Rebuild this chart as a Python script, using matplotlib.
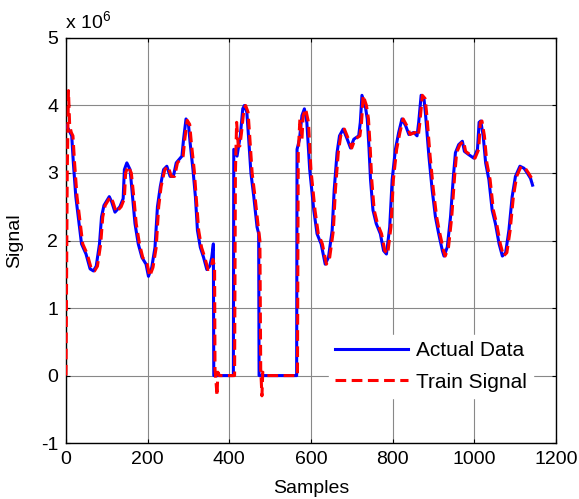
import matplotlib
matplotlib.use("Agg")
import matplotlib.pyplot as plt

plt.rcParams['font.family'] = ['Liberation Sans', 'DejaVu Sans']
plt.rcParams['mathtext.fontset'] = 'custom'
plt.rcParams['mathtext.rm'] = 'Liberation Sans'

# Actual data (sample index, value in units of 1e6)
actual_x = [0, 6, 14, 18, 24, 30, 38, 49, 59, 67, 74, 82, 87, 93, 106, 112, 120, 132, 140, 143,
            149, 157, 163, 169, 177, 186, 196, 202, 210, 218, 224, 231, 239, 247, 255, 263, 270,
            284, 288, 294, 300, 304, 311, 317, 322, 329, 337, 345, 352, 357, 361, 362, 366, 410,
            411, 419, 427, 433, 437, 443, 447, 453, 460, 468, 472, 473, 477, 565, 566, 572, 578,
            584, 590, 597, 607, 615, 625, 635, 643, 652, 657, 664, 670, 679, 689, 697, 705, 717,
            721, 725, 733, 738, 742, 746, 752, 760, 770, 778, 785, 793, 799, 807, 815, 823, 832,
            840, 852, 860, 864, 870, 877, 881, 889, 897, 905, 913, 922, 926, 934, 942, 949, 954,
            962, 971, 976, 987, 999, 1008, 1012, 1016, 1022, 1028, 1036, 1044, 1052, 1061, 1069,
            1077, 1085, 1093, 1101, 1112, 1122, 1130, 1138, 1143]
actual_y = [3.7, 3.65, 3.55, 3.15, 2.65, 2.35, 1.95, 1.8, 1.58, 1.55, 1.62, 1.95, 2.35, 2.52, 2.65,
            2.57, 2.42, 2.5, 2.62, 3.05, 3.15, 3.05, 2.65, 2.25, 1.95, 1.75, 1.65, 1.47, 1.6, 1.9,
            2.5, 2.8, 3.05, 3.1, 2.95, 2.95, 3.15, 3.25, 3.5, 3.8, 3.72, 3.45, 3.05, 2.65, 2.15,
            1.9, 1.75, 1.57, 1.62, 1.75, 1.95, 0.0, 0.0, 0.0, 3.35, 3.25, 3.55, 3.95, 4.0, 3.9,
            3.55, 3.0, 2.65, 2.2, 2.1, 0.0, 0.0, 0.0, 3.35, 3.5, 3.85, 3.95, 3.75, 3.05, 2.45, 2.1,
            1.95, 1.65, 1.75, 2.15, 2.75, 3.3, 3.55, 3.65, 3.5, 3.37, 3.5, 3.55, 3.75, 4.15, 4.0,
            3.8, 3.4, 2.9, 2.45, 2.25, 2.1, 1.85, 1.8, 2.2, 2.9, 3.35, 3.6, 3.8, 3.7, 3.57, 3.6,
            3.55, 3.75, 4.15, 4.1, 3.85, 3.25, 2.75, 2.35, 2.1, 1.85, 1.77, 1.9, 2.35, 2.95, 3.3,
            3.42, 3.47, 3.32, 3.27, 3.22, 3.35, 3.75, 3.77, 3.55, 3.15, 2.9, 2.45, 2.25, 1.95, 1.77,
            1.82, 2.15, 2.65, 2.95, 3.1, 3.07, 3.0, 2.92, 2.82]

# Train signal (sample index, value in units of 1e6)
train_x = [0, 3, 6, 9, 13, 17, 21, 27, 33, 41, 52, 62, 70, 77, 85, 90, 96, 109, 115, 123, 135, 143,
           146, 152, 160, 166, 172, 180, 188, 199, 205, 213, 221, 227, 233, 242, 250, 258, 266,
           273, 287, 291, 297, 303, 307, 314, 319, 325, 332, 340, 348, 355, 360, 364, 365, 367,
           370, 372, 376, 413, 415, 418, 422, 426, 430, 436, 440, 446, 450, 456, 463, 471, 475,
           477, 480, 482, 488, 567, 569, 573, 578, 581, 587, 594, 600, 610, 618, 628, 638, 646,
           655, 660, 667, 673, 682, 692, 700, 708, 720, 724, 728, 736, 741, 745, 749, 755, 763,
           773, 781, 788, 796, 802, 810, 818, 826, 835, 843, 855, 863, 867, 873, 880, 884, 892,
           900, 908, 916, 925, 929, 937, 945, 952, 957, 965, 974, 979, 990, 1002, 1011, 1015, 1019,
           1025, 1031, 1039, 1047, 1055, 1064, 1072, 1080, 1088, 1096, 1104, 1115, 1125, 1133,
           1141, 1145]
train_y = [0.0, 3.0, 4.22, 3.7, 3.6, 3.55, 3.15, 2.65, 2.35, 1.95, 1.8, 1.58, 1.55, 1.62, 1.95, 2.35,
           2.52, 2.65, 2.57, 2.42, 2.5, 2.62, 3.0, 3.1, 3.0, 2.65, 2.25, 1.95, 1.75, 1.65, 1.47, 1.6,
           1.9, 2.5, 2.8, 3.05, 3.1, 2.95, 2.95, 3.15, 3.25, 3.5, 3.78, 3.72, 3.45, 3.05, 2.65, 2.15,
           1.9, 1.75, 1.57, 1.6, 1.72, 1.6, 0.1, -0.05, -0.3, 0.05, 0.0, 0.0, 3.0, 3.75, 3.4, 3.4,
           3.6, 3.95, 4.0, 3.9, 3.55, 3.0, 2.65, 2.2, 2.0, 0.1, -0.3, 0.05, 0.0, 0.0, 3.3, 3.8, 3.5,
           3.85, 3.95, 3.75, 3.05, 2.45, 2.1, 1.95, 1.65, 1.75, 2.15, 2.75, 3.3, 3.55, 3.65, 3.5,
           3.37, 3.5, 3.55, 3.75, 4.15, 4.0, 3.8, 3.4, 2.9, 2.45, 2.25, 2.1, 1.85, 1.8, 2.2, 2.9,
           3.35, 3.6, 3.8, 3.7, 3.57, 3.6, 3.55, 3.75, 4.15, 4.1, 3.85, 3.25, 2.75, 2.35, 2.1, 1.85,
           1.77, 1.9, 2.35, 2.95, 3.3, 3.42, 3.47, 3.32, 3.27, 3.22, 3.35, 3.75, 3.77, 3.55, 3.15,
           2.9, 2.45, 2.25, 1.95, 1.77, 1.82, 2.15, 2.65, 2.95, 3.1, 3.07, 3.0, 2.92, 2.85]

x_ticks = [0, 200, 400, 600, 800, 1000, 1200]
y_ticks = [-1, 0, 1, 2, 3, 4, 5]

fig = plt.figure(figsize=(5.79, 4.99), dpi=100)
ax = fig.add_axes([0.114, 0.112, 0.846, 0.812])

ax.plot(actual_x, actual_y, color='#0000ff', lw=2.2, label='Actual Data', zorder=3)
ax.plot(train_x, train_y, color='#ff0000', lw=2.2, dashes=(3.5, 1.8), label='Train Signal', zorder=4)

ax.set_xlim(0, 1200)
ax.set_ylim(-1, 5)
ax.set_xticks(x_ticks)
ax.set_yticks(y_ticks)
ax.set_xticklabels([str(t) for t in x_ticks])
ax.set_yticklabels([str(t) for t in y_ticks])
ax.grid(True, color='#888888', lw=0.8)
ax.set_axisbelow(True)
ax.tick_params(direction='in', top=True, right=True, labelsize=14, length=3, width=0.8)
ax.tick_params(axis='x', pad=6)
ax.tick_params(axis='y', pad=5.5)
for s in ax.spines.values():
    s.set_linewidth(1.0)

ax.set_xlabel('Samples', fontsize=14)
ax.set_ylabel('Signal', fontsize=14)
ax.xaxis.set_label_coords(0.5, -0.092)
ax.yaxis.set_label_coords(-0.088, 0.5)
ax.text(-0.002, 1.012, r'x 10$^6$', transform=ax.transAxes, fontsize=14, ha='left', va='bottom')

leg = ax.legend(loc='lower right', bbox_to_anchor=(0.975, 0.086), fontsize=15, frameon=True,
                fancybox=False, edgecolor='white', framealpha=1, handlelength=3.5,
                handletextpad=0.4, borderpad=0.3, labelspacing=0.6)

fig.savefig('out.png', dpi=100)
